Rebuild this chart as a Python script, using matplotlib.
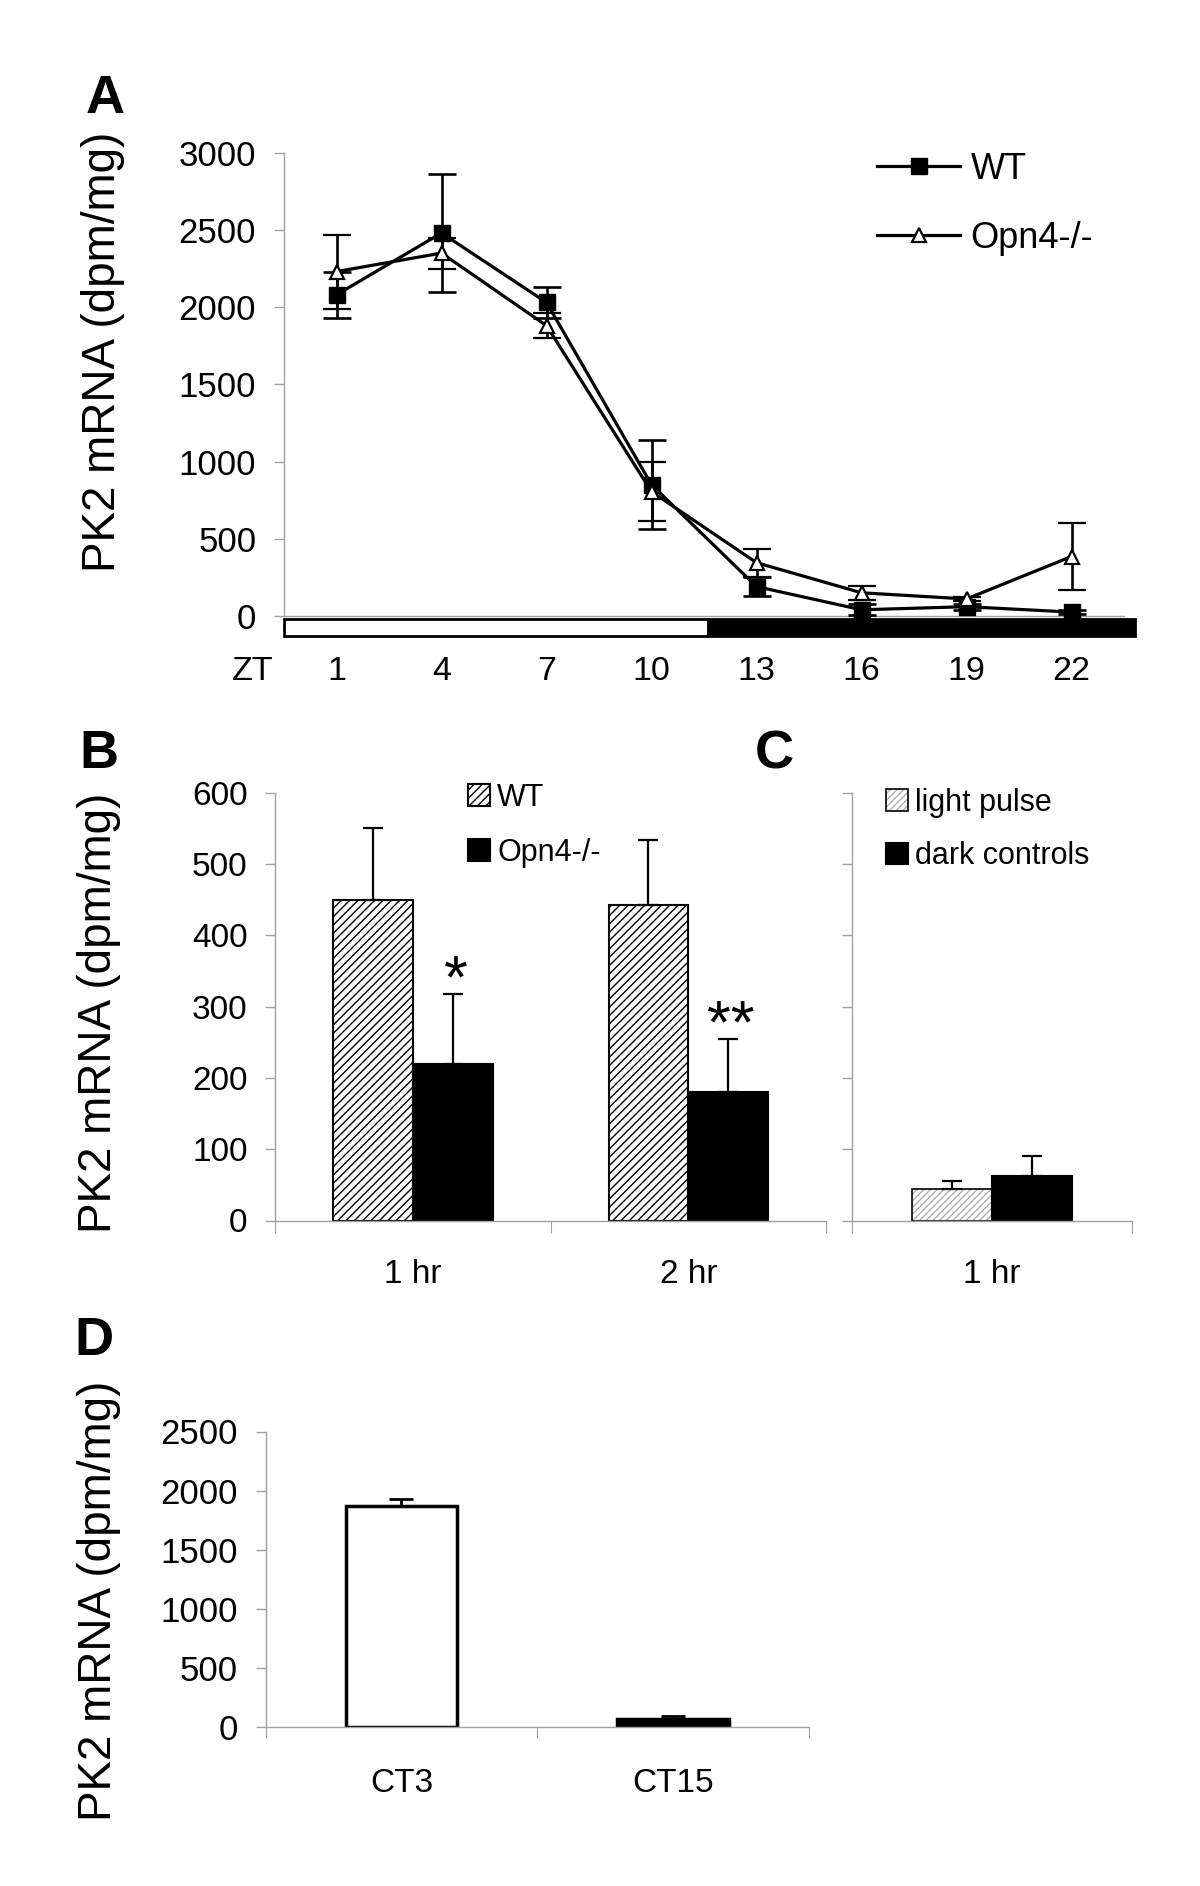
import matplotlib
matplotlib.use('Agg')
import matplotlib.pyplot as plt
from matplotlib.patches import Rectangle
from matplotlib.lines import Line2D
from matplotlib.legend_handler import HandlerTuple
import numpy as np

plt.rcParams['font.family'] = ['Liberation Sans', 'DejaVu Sans']
plt.rcParams['hatch.linewidth'] = 1.0

# panel A: PK2 over the light/dark cycle
zt = [1, 4, 7, 10, 13, 16, 19, 22]
wt_a = [2080, 2480, 2030, 850, 190, 40, 60, 25]
wt_a_err = [150, 380, 100, 290, 60, 35, 20, 15]
ko_a = [2230, 2350, 1880, 805, 345, 150, 110, 385]
ko_a_err = [240, 100, 80, 190, 90, 45, 15, 218]
lights_off = 11.6

# panel B: light pulse, WT vs Opn4-/-
b_groups = ['1 hr', '2 hr']
wt_b = [450, 443]
wt_b_err = [100, 90]
ko_b = [219, 180]
ko_b_err = [98, 75]
b_stars = ['*', '**']

# panel C: light pulse vs dark controls
c_groups = ['1 hr']
pulse_c = [44]
pulse_c_err = [11]
dark_c = [63]
dark_c_err = [28]

# panel D: constant darkness
d_groups = ['CT3', 'CT15']
d_vals = [1870, 65]
d_err = [60, 30]

W, H = 1200, 1886
gray = '#a0a0a0'
ylab = 'PK2 mRNA (dpm/mg)'


def box(l, t, r, b):
    return [l / W, 1 - b / H, (r - l) / W, (b - t) / H]


def style(ax, size=24):
    for s in ['top', 'right']:
        ax.spines[s].set_visible(False)
    for s in ['left', 'bottom']:
        ax.spines[s].set_color(gray)
        ax.spines[s].set_linewidth(1)
    ax.tick_params(axis='y', length=7.5, width=1, color=gray, pad=12.5,
                   labelsize=size)


fig = plt.figure(figsize=(W / 100, H / 100), dpi=100)

# ---- A
ax = fig.add_axes(box(284, 152.7, 1134.5, 636.8))
style(ax, 25)
ax.errorbar(zt, wt_a, yerr=wt_a_err, color='k', lw=2.3, marker='s', ms=11,
            mfc='k', mec='k', capsize=10, elinewidth=1.9, capthick=1.9,
            zorder=3)
ax.errorbar(zt, ko_a, yerr=ko_a_err, color='k', lw=2.3, marker='^', ms=10,
            mfc='w', mec='k', mew=1.6, capsize=10, elinewidth=1.9,
            capthick=1.9, zorder=4)
ax.set_xlim(-0.5, 23.8)
ax.set_ylim(-135, 3000)
ax.spines['left'].set_bounds(0, 3000)
ax.spines['bottom'].set_position(('data', 0))
ax.spines['bottom'].set_bounds(-0.5, 23.5)
ax.set_xticks(zt)
ax.tick_params(axis='x', length=0, pad=28.5, labelsize=24.5)
ax.set_yticks(range(0, 3001, 500))
# light/dark bar under the axis
ax.add_patch(Rectangle((-0.5, -130), lights_off + 0.5, 110, fc='w', ec='k',
                       lw=2, clip_on=False))
ax.add_patch(Rectangle((lights_off, -130), 23.8 - lights_off, 110, fc='k',
                       ec='k', lw=2, clip_on=False))
handles = [Line2D([], [], color='k', lw=2.3, marker='s', ms=11),
           Line2D([], [], color='k', lw=2.3, marker='^', ms=10, mfc='w',
                  mew=1.6)]
ax.legend(handles, ['WT', 'Opn4-/-'], loc='upper left',
          bbox_to_anchor=(876.7 / W, 1 - 152 / H), bbox_transform=fig.transFigure,
          frameon=False, fontsize=26, handlelength=2.32, handletextpad=0.28,
          labelspacing=0.94, borderpad=0, borderaxespad=0, numpoints=1)
fig.text(253 / W, 1 - 671.5 / H, 'ZT', ha='center', va='center', fontsize=24.5)

# ---- B
ax = fig.add_axes(box(275.4, 792.7, 826, 1220.5))
style(ax)
x = np.arange(len(b_groups))
w = 0.29
ax.bar(x - w / 2, wt_b, w, color='w', edgecolor='k', hatch='////', lw=1.5,
       label='WT')
ax.bar(x + w / 2, ko_b, w, color='k', edgecolor='k', lw=1.5, label='Opn4-/-')
ax.errorbar(x - w / 2, wt_b, yerr=[np.zeros(len(x)), wt_b_err], fmt='none',
            ecolor='k', elinewidth=1.6, capsize=7.5, capthick=1.6)
ax.errorbar(x + w / 2, ko_b, yerr=[np.zeros(len(x)), ko_b_err], fmt='none',
            ecolor='k', elinewidth=1.6, capsize=7.5, capthick=1.6)
for xi, v, e, s in zip(x + w / 2, ko_b, ko_b_err, b_stars):
    ax.text(xi + 0.01, v + e + 17, s, ha='center', va='center', fontsize=44)
ax.set_xlim(-0.5, 1.5)
ax.set_ylim(0, 600)
ax.set_yticks(range(0, 601, 100))
ax.set_xticks(x, labels=b_groups, minor=True)
ax.set_xticks([-0.5, 0.5, 1.5])
ax.tick_params(axis='x', which='major', length=8.6, color=gray,
               labelbottom=False)
ax.tick_params(axis='x', which='minor', length=0, pad=28, labelsize=24)
ax.legend(loc='upper left', bbox_to_anchor=(468 / W, 1 - 782.7 / H),
          bbox_transform=fig.transFigure, frameon=False, fontsize=22,
          handlelength=0.72, handleheight=0.72, handletextpad=0.23,
          labelspacing=0.82, borderpad=0, borderaxespad=0)

# ---- C
ax = fig.add_axes(box(851.6, 792.7, 1132.4, 1220.5))
style(ax)
x = np.arange(len(c_groups))
w = 0.286
with plt.rc_context({'hatch.color': '#b0b0b0'}):
    pulse = ax.bar(x - w / 2, pulse_c, w, color='w', hatch='/////', lw=0)
edge = ax.bar(x - w / 2, pulse_c, w, fill=False, edgecolor='k', lw=1.2)
dark = ax.bar(x + w / 2, dark_c, w, color='k', edgecolor='k', lw=1.5)
ax.errorbar(x - w / 2, pulse_c, yerr=[np.zeros(len(x)), pulse_c_err],
            fmt='none', ecolor='k', elinewidth=1.6, capsize=7, capthick=1.6)
ax.errorbar(x + w / 2, dark_c, yerr=[np.zeros(len(x)), dark_c_err],
            fmt='none', ecolor='k', elinewidth=1.6, capsize=7, capthick=1.6)
ax.set_xlim(-0.5, 0.5)
ax.set_ylim(0, 600)
ax.set_yticks(range(0, 601, 100))
ax.set_yticklabels([])
ax.set_xticks(x, labels=c_groups, minor=True)
ax.set_xticks([-0.5, 0.5])
ax.tick_params(axis='x', which='major', length=8.6, color=gray,
               labelbottom=False)
ax.tick_params(axis='x', which='minor', length=0, pad=28, labelsize=24)
ax.legend([(pulse[0], edge[0]), dark[0]], ['light pulse', 'dark controls'],
          handler_map={tuple: HandlerTuple(ndivide=1)},
          loc='upper left', bbox_to_anchor=(886 / W, 1 - 787.7 / H),
          bbox_transform=fig.transFigure, frameon=False, fontsize=22,
          handlelength=0.72, handleheight=0.72, handletextpad=0.23,
          labelspacing=0.77, borderpad=0, borderaxespad=0)

# ---- D
ax = fig.add_axes(box(265.6, 1431.5, 809, 1727))
style(ax, 25)
x = np.arange(len(d_groups))
ax.bar(x, d_vals, 0.41, color=['w', 'k'], edgecolor='k', lw=2.5)
ax.errorbar(x, d_vals, yerr=[np.zeros(len(x)), d_err], fmt='none',
            ecolor='k', elinewidth=2, capsize=8.5, capthick=2)
ax.set_xlim(-0.5, 1.5)
ax.set_ylim(0, 2500)
ax.set_yticks(range(0, 2501, 500))
ax.set_xticks(x, labels=d_groups, minor=True)
ax.set_xticks([-0.5, 0.5, 1.5])
ax.tick_params(axis='x', which='major', length=8, color=gray,
               labelbottom=False)
ax.tick_params(axis='x', which='minor', length=0, pad=29.5, labelsize=24)

# y labels and panel letters
for xc, yc in [(103, 352), (99, 1013), (99, 1601)]:
    fig.text(xc / W, 1 - yc / H, ylab, rotation=90, ha='center', va='center',
             fontsize=33)
for s, xl, yb in [('A', 86, 113.3), ('B', 79, 768), ('C', 755, 768.5),
                  ('D', 74.5, 1355)]:
    fig.text(xl / W, 1 - yb / H, s, fontsize=39, fontweight='bold',
             ha='left', va='baseline')

fig.savefig('out.png', dpi=100)
